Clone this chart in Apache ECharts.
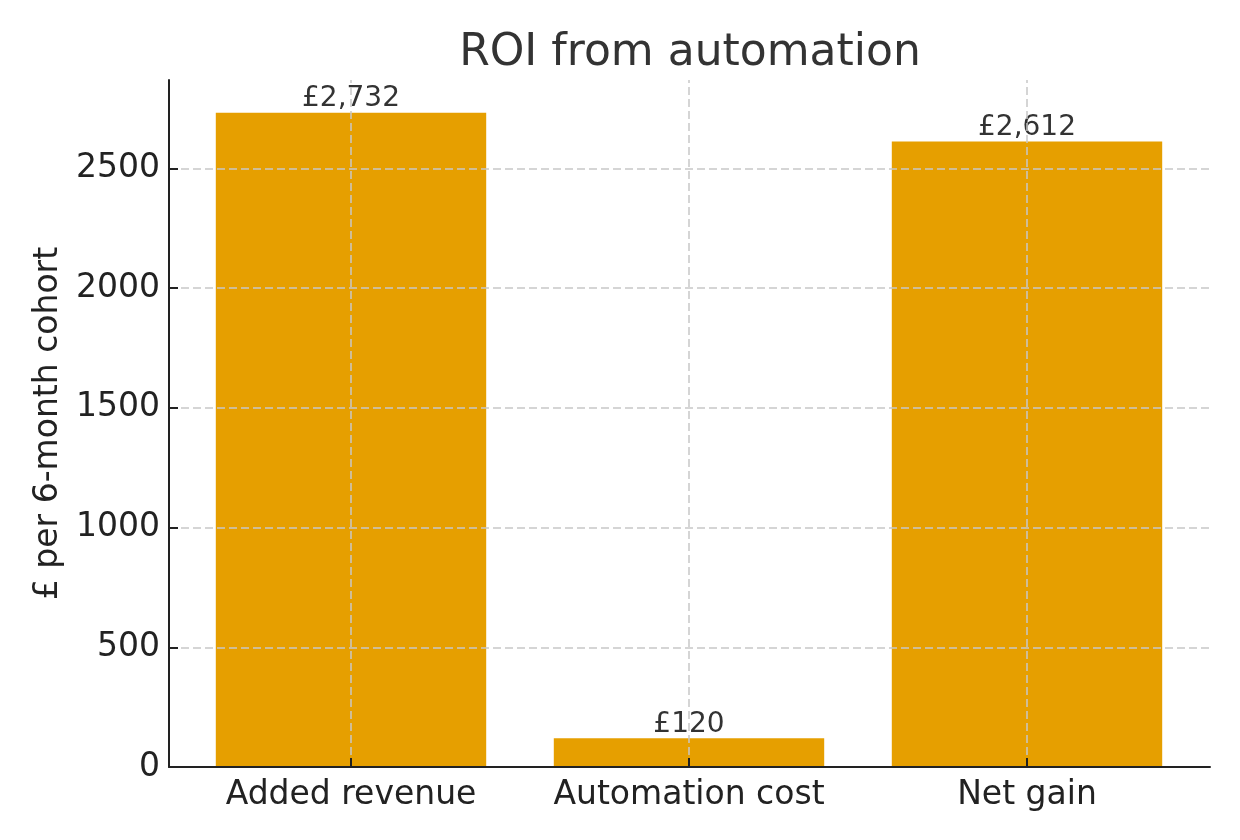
<!DOCTYPE html>
<html>
<head>
<meta charset="utf-8">
<script src="https://cdn.jsdelivr.net/npm/echarts@6/dist/echarts.min.js"></script>
<style>
  html, body { margin: 0; padding: 0; background: #fff; }
  #chart { width: 1240px; height: 840px; }
</style>
</head>
<body>
<div id="chart"></div>
<script>
// data
const categories = ['Added revenue', 'Automation cost', 'Net gain']
const values = [2732, 120, 2612]
const yTicks = [0, 500, 1000, 1500, 2000, 2500]
const yMax = 2868.6

const font = 'DejaVu Sans'
const ink = '#222'
const gridLine = { color: '#c8c8c8', width: 1.5, type: [8, 4] }

const chart = echarts.init(document.getElementById('chart'))

const option = {
  backgroundColor: '#fff',
  animation: false,
  textStyle: { fontFamily: font },
  title: {
    text: 'ROI from automation',
    left: 685,
    top: 27,
    textAlign: 'center',
    textStyle: { fontFamily: font, fontSize: 44, fontWeight: 'normal', color: '#333' }
  },
  grid: [
    // full plot area: spines, y ticks, horizontal grid
    { left: 169, right: 30, top: 80, bottom: 73 },
    // bar area, padded like matplotlib's x margins
    { left: 182, right: 44, top: 80, bottom: 73 }
  ],
  xAxis: [
    {
      gridIndex: 0, type: 'value', min: 0, max: 1, z: 10,
      axisLine: { show: true, lineStyle: { color: ink, width: 2 } },
      axisTick: { show: false }, axisLabel: { show: false }, splitLine: { show: false }
    },
    {
      gridIndex: 1, type: 'category', data: categories, z: 10,
      axisLine: { show: false },
      axisTick: { show: true, inside: true, alignWithLabel: true, length: 9, lineStyle: { color: ink, width: 2 } },
      axisLabel: { fontSize: 33, color: ink, margin: 12, interval: 0, hideOverlap: false, fontFamily: font },
      splitLine: { show: false }
    }
  ],
  yAxis: [
    {
      // horizontal grid lines only, above the bars
      gridIndex: 0, type: 'value', min: 0, max: yMax, interval: 500, z: 4,
      axisLine: { show: false }, axisTick: { show: false }, axisLabel: { show: false },
      splitLine: { show: true, showMinLine: false, showMaxLine: false, lineStyle: gridLine }
    },
    {
      gridIndex: 0, type: 'value', min: 0, max: yMax, interval: 500, z: 10,
      position: 'left', offset: 0,
      name: '£ per 6-month cohort',
      nameLocation: 'middle',
      nameGap: 95,
      nameTextStyle: { fontSize: 33, color: ink, fontFamily: font },
      axisLine: { show: true, lineStyle: { color: ink, width: 2 } },
      axisTick: { show: true, inside: true, length: 9, customValues: yTicks, lineStyle: { color: ink, width: 2 } },
      axisLabel: {
        fontSize: 33, color: ink, margin: 9, fontFamily: font, padding: [6, 0, 0, 0],
        formatter: v => (yTicks.includes(v) ? String(v) : '')
      },
      splitLine: { show: false }
    },
    {
      gridIndex: 1, type: 'value', min: 0, max: yMax, show: false
    }
  ],
  series: [
    {
      type: 'bar',
      xAxisIndex: 1,
      yAxisIndex: 2,
      data: values,
      barWidth: '80%',
      itemStyle: { color: '#E69F00' },
      label: {
        show: true,
        position: 'top',
        distance: 0,
        fontSize: 28,
        color: '#333',
        fontFamily: font,
        formatter: p => '£' + p.value.toLocaleString('en-GB')
      },
      markLine: {
        silent: true,
        symbol: 'none',
        z: 3,
        label: { show: false },
        lineStyle: gridLine,
        data: categories.map(c => ({ xAxis: c }))
      }
    }
  ]
}

chart.setOption(option)
</script>
</body>
</html>
